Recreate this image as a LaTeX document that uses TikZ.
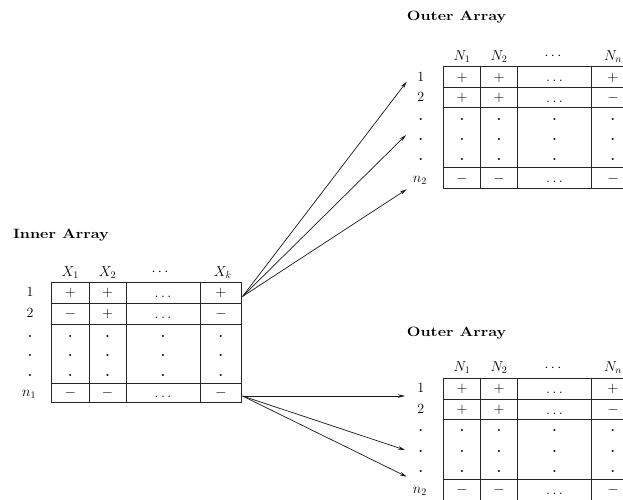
\documentclass[tikz,border=0pt]{standalone}
\usepackage{fontspec}
\usetikzlibrary{arrows.meta}
\newcommand\WideTitle[1]{\scalebox{1.2}[1]{#1}}
\newcommand\BigDot{{\bfseries .}}
\begin{document}
\begin{tikzpicture}[x=1pt,y=-1pt,
  font=\fontsize{14}{16}\selectfont,
  grid/.style={line width=0.8pt, draw=black!85},
  cell/.style={inner sep=0pt, anchor=base},
  mid/.style={inner sep=0pt, anchor=center},
  title/.style={inner sep=0pt, anchor=base west,
    font=\fontsize{13.5}{15}\selectfont\bfseries},
  conn/.style={line width=0.7pt, draw=black!90, -{Stealth[length=7pt,width=3.6pt]}}]
\useasboundingbox (0,0) rectangle (623,500);
\clip (0,0) rectangle (623,500);

% ---------- Inner array ----------
\node[title] (tin) at (13,238) {\WideTitle{Inner Array}};
\begin{scope}[shift={(51.7,282.3)}]
  \draw[grid] (0,0) rectangle (190,120.4);
  \foreach \y in {21,41.7,101} \draw[grid] (0,\y) -- (190,\y);
  \foreach \x in {37.3,74.3,148.3} \draw[grid] (\x,0) -- (\x,120.4);
  % header
  \node[cell] (ih1) at (18.65,-6.3) {$X_1$};
  \node[cell] (ih2) at (55.8,-6.3) {$X_2$};
  \node[mid]  (ih3) at (108.3,-9.6) {$\cdots$};
  \node[cell] (ih4) at (171,-6.3) {$X_k$};
  % row labels
  \node[cell] (ir1) at (-21.7,14.5) {1};
  \node[cell] (ir2) at (-21.7,35.5) {2};
  \foreach \yy [count=\i] in {54.7,74.4,93.7} {
    \node[cell] (ird\i) at (-21.7,\yy) {\BigDot};
    \foreach \xx [count=\j] in {18.65,55.8,111.3,169.15}
      \node[cell] (id\i\j) at (\xx,\yy) {\BigDot};
  }
  \node[cell] (irn) at (-22.5,114.5) {$n_1$};
  % row 1
  \node[cell] (i11) at (18.65,14.5) {$+$};
  \node[cell] (i12) at (55.8,14.5) {$+$};
  \node[mid]  (i13) at (111.3,14) {$\dots$};
  \node[cell] (i14) at (169.15,14.5) {$+$};
  % row 2
  \node[cell] (i21) at (18.65,35.5) {$-$};
  \node[cell] (i22) at (55.8,35.5) {$+$};
  \node[mid]  (i23) at (111.3,35) {$\dots$};
  \node[cell] (i24) at (169.15,35.5) {$-$};
  % row n1
  \node[cell] (in1) at (18.65,114.5) {$-$};
  \node[cell] (in2) at (55.8,114.5) {$-$};
  \node[mid]  (in3) at (111.3,114) {$\dots$};
  \node[cell] (in4) at (169.15,114.5) {$-$};
\end{scope}

% ---------- Outer arrays ----------
\foreach \oy/\ty/\p in {66.7/21/a, 378.3/336.7/b} {
  \node[title] (t\p) at (406.7,\ty) {\WideTitle{Outer Array}};
  \begin{scope}[shift={(443.3,\oy)}]
    \draw[grid] (0,0) rectangle (190.7,122);
    \foreach \y in {20.8,41.2,100.8} \draw[grid] (0,\y) -- (190.7,\y);
    \foreach \x in {37.4,74,148.4} \draw[grid] (\x,0) -- (\x,122);
    \node[cell] (\p h1) at (18.7,-6.5) {$N_1$};
    \node[cell] (\p h2) at (55.7,-6.5) {$N_2$};
    \node[mid]  (\p h3) at (109.7,-10) {$\cdots$};
    \node[cell] (\p h4) at (169.6,-6.5) {$N_n$};
    \node[cell] (\p r1) at (-22.6,14.5) {1};
    \node[cell] (\p r2) at (-22.6,35.3) {2};
    \foreach \yy [count=\i] in {53.5,73.8,93.8} {
      \node[cell] (\p rd\i) at (-22.6,\yy) {\BigDot};
      \foreach \xx [count=\j] in {18.7,55.7,111.2,169.6}
        \node[cell] (\p d\i\j) at (\xx,\yy) {\BigDot};
    }
    \node[cell] (\p rn) at (-23.4,115.5) {$n_2$};
    \node[cell] (\p 11) at (18.7,14.5) {$+$};
    \node[cell] (\p 12) at (55.7,14.5) {$+$};
    \node[mid]  (\p 13) at (111.2,14) {$\dots$};
    \node[cell] (\p 14) at (169.6,14.5) {$+$};
    \node[cell] (\p 21) at (18.7,35.3) {$+$};
    \node[cell] (\p 22) at (55.7,35.3) {$+$};
    \node[mid]  (\p 23) at (111.2,35) {$\dots$};
    \node[cell] (\p 24) at (169.6,35.3) {$-$};
    \node[cell] (\p n1) at (18.7,115.5) {$-$};
    \node[cell] (\p n2) at (55.7,115.5) {$-$};
    \node[mid]  (\p n3) at (111.2,115) {$\dots$};
    \node[cell] (\p n4) at (169.6,115.5) {$-$};
  \end{scope}
}

% ---------- Connectors ----------
\coordinate (srcA) at (242.5,296.5);
\coordinate (srcB) at (242.5,396);
\coordinate (ta1) at (406.7,81.7);
\coordinate (ta2) at (406,135);
\coordinate (ta3) at (406.7,189.3);
\coordinate (tb1) at (405,396);
\coordinate (tb2) at (405,450);
\coordinate (tb3) at (406.7,476.7);
\foreach \t in {ta1,ta2,ta3} \draw[conn] (srcA) -- (\t);
\foreach \t in {tb1,tb2,tb3} \draw[conn] (srcB) -- (\t);
\end{tikzpicture}
\end{document}
